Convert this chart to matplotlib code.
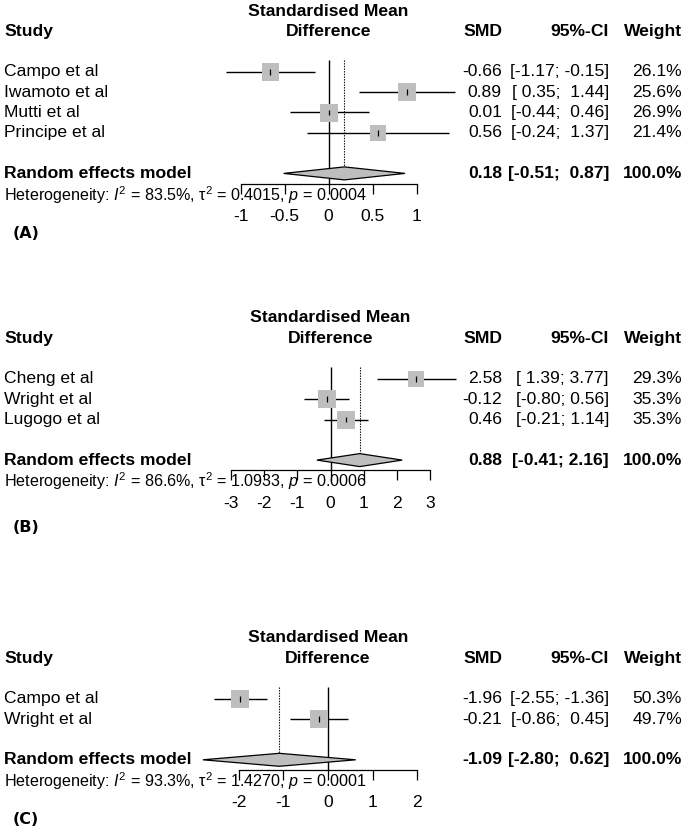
import matplotlib
matplotlib.use('Agg')
import matplotlib.pyplot as plt
import numpy as np
from matplotlib.patches import Rectangle, Polygon
from matplotlib.transforms import blended_transform_factory

# ---- data -------------------------------------------------------------
studies_a = ['Campo et al', 'Iwamoto et al', 'Mutti et al', 'Principe et al']
smd_a = [-0.66, 0.89, 0.01, 0.56]
lo_a = [-1.17, 0.35, -0.44, -0.24]
hi_a = [-0.15, 1.44, 0.46, 1.37]
weight_a = [26.1, 25.6, 26.9, 21.4]
pooled_a = [0.18, -0.51, 0.87]
het_a = ['83.5', '0.4015', '0.0004']
ticks_a = [-1, -0.5, 0, 0.5, 1]

studies_b = ['Cheng et al', 'Wright et al', 'Lugogo et al']
smd_b = [2.58, -0.12, 0.46]
lo_b = [1.39, -0.80, -0.21]
hi_b = [3.77, 0.56, 1.14]
weight_b = [29.3, 35.3, 35.3]
pooled_b = [0.88, -0.41, 2.16]
het_b = ['86.6', '1.0933', '0.0006']
ticks_b = [-3, -2, -1, 0, 1, 2, 3]

studies_c = ['Campo et al', 'Wright et al']
smd_c = [-1.96, -0.21]
lo_c = [-2.55, -0.86]
hi_c = [-1.36, 0.45]
weight_c = [50.3, 49.7]
pooled_c = [-1.09, -2.80, 0.62]
het_c = ['93.3', '1.4270', '0.0001']
ticks_c = [-2, -1, 0, 1, 2]

# ---- style ------------------------------------------------------------
W, H = 685, 831
LINE = 20.3          # pixel height of one text line
FS = 12.6
SQ_MAX = 18.0        # side of the largest square, px
GREY = '#BEBEBE'

plt.rcParams.update({
    'font.family': 'Liberation Sans',
    'mathtext.fontset': 'custom',
    'mathtext.rm': 'Liberation Sans',
    'mathtext.it': 'Liberation Sans:italic',
    'mathtext.bf': 'Liberation Sans:bold',
})


def fmt_col(values, width=None):
    s = [f'{v:.2f}' for v in values]
    width = width or max(len(t) for t in s)
    return [t.rjust(width) for t in s]


def draw_panel(fig, top_px, x0, ppu, label, label_y,
               studies, smd, lo, hi, weight, pooled, het, ticks):
    n = len(studies)
    rows = np.arange(n) + 3
    r_d = 3 + n + 1
    r_axis = r_d + 0.5
    ax_top = top_px - LINE
    ax_bot = top_px + r_axis * LINE
    ax = fig.add_axes([0, 1 - ax_bot / H, 1, (ax_bot - ax_top) / H])
    ax.set_xlim(-x0 / ppu, (W - x0) / ppu)
    ax.set_ylim(r_axis, -1)
    ax.patch.set_visible(False)
    for s in ['top', 'left', 'right']:
        ax.spines[s].set_visible(False)
    ax.spines['bottom'].set_bounds(ticks[0], ticks[-1])
    ax.spines['bottom'].set_linewidth(0.9)
    ax.set_yticks([])
    ax.set_xticks(ticks, [f'{t:g}' for t in ticks])
    ax.tick_params(axis='x', direction='out', length=7.2, width=0.9,
                   pad=11.0, labelsize=FS)

    trans = blended_transform_factory(fig.transFigure, ax.transData)

    # reference lines
    ax.vlines(0, rows[0] - 0.6, r_axis, color='black', lw=1.0, zorder=1)
    h = 0.32
    ax.vlines(pooled[0], rows[0] - 0.6, r_d - h, color='black', lw=0.8,
              linestyles=(0, (1.2, 1.2)), zorder=1)

    # study rows
    ax.hlines(rows, lo, hi, color='black', lw=1.0, zorder=2)
    wmax = max(weight)
    for r, est, w in zip(rows, smd, weight):
        side = SQ_MAX * np.sqrt(w / wmax)
        ax.add_patch(Rectangle((est - side / ppu / 2, r - side / LINE / 2),
                               side / ppu, side / LINE, facecolor=GREY,
                               edgecolor='none', zorder=3))
    ax.vlines(smd, rows - 0.14, rows + 0.14, color='black', lw=0.9, zorder=4)

    # pooled diamond
    est, plo, phi = pooled
    ax.add_patch(Polygon([(plo, r_d), (est, r_d - h), (phi, r_d), (est, r_d + h)],
                         closed=True, facecolor=GREY, edgecolor='black',
                         lw=0.9, zorder=3))

    # text columns
    lo_s = fmt_col(lo + [plo])
    hi_s = fmt_col(hi + [phi])
    smd_s = [f'{v:.2f}' for v in smd + [est]]
    w_s = [f'{v:.1f}%' for v in weight + [100.0]]
    kw = dict(transform=trans, va='center', fontsize=FS)

    ax.text(0, 0, 'Standardised Mean', ha='center', va='center',
            fontsize=FS, fontweight='bold')
    ax.text(0, 1, 'Difference', ha='center', va='center',
            fontsize=FS, fontweight='bold')
    ax.text(4 / W, 1, 'Study', ha='left', fontweight='bold', **kw)
    ax.text(502 / W, 1, 'SMD', ha='right', fontweight='bold', **kw)
    ax.text(609 / W, 1, '95%-CI', ha='right', fontweight='bold', **kw)
    ax.text(682 / W, 1, 'Weight', ha='right', fontweight='bold', **kw)

    all_rows = list(rows) + [r_d]
    for i, r in enumerate(all_rows):
        bold = 'bold' if i == n else 'normal'
        name = studies[i] if i < n else 'Random effects model'
        ax.text(4 / W, r, name, ha='left', fontweight=bold, **kw)
        ax.text(502 / W, r, smd_s[i], ha='right', fontweight=bold, **kw)
        ax.text(609 / W, r, f'[{lo_s[i]}; {hi_s[i]}]', ha='right',
                fontweight=bold, **kw)
        ax.text(682 / W, r, w_s[i], ha='right', fontweight=bold, **kw)

    het_txt = ('Heterogeneity: $I^2$ = ' + het[0] + '%, $\\mathrm{τ}^2$ = '
               + het[1] + ', $p$ = ' + het[2])
    ax.text(4 / W, r_d + 1.05, het_txt, transform=trans, ha='left',
            va='center', fontsize=11.6, zorder=0)

    fig.text(13 / W, 1 - label_y / H, label, ha='left', va='center',
             fontsize=11.5, fontweight='bold', family='DejaVu Sans')


fig = plt.figure(figsize=(W / 100, H / 100), dpi=100)
fig.patch.set_facecolor('white')

draw_panel(fig, 11, 328.5, 88.0, '(A)', 234,
           studies_a, smd_a, lo_a, hi_a, weight_a, pooled_a, het_a, ticks_a)
draw_panel(fig, 318, 330.5, 33.2, '(B)', 527,
           studies_b, smd_b, lo_b, hi_b, weight_b, pooled_b, het_b, ticks_b)
draw_panel(fig, 638, 328.0, 44.7, '(C)', 819,
           studies_c, smd_c, lo_c, hi_c, weight_c, pooled_c, het_c, ticks_c)

fig.savefig('out.png', dpi=100, facecolor='white')
